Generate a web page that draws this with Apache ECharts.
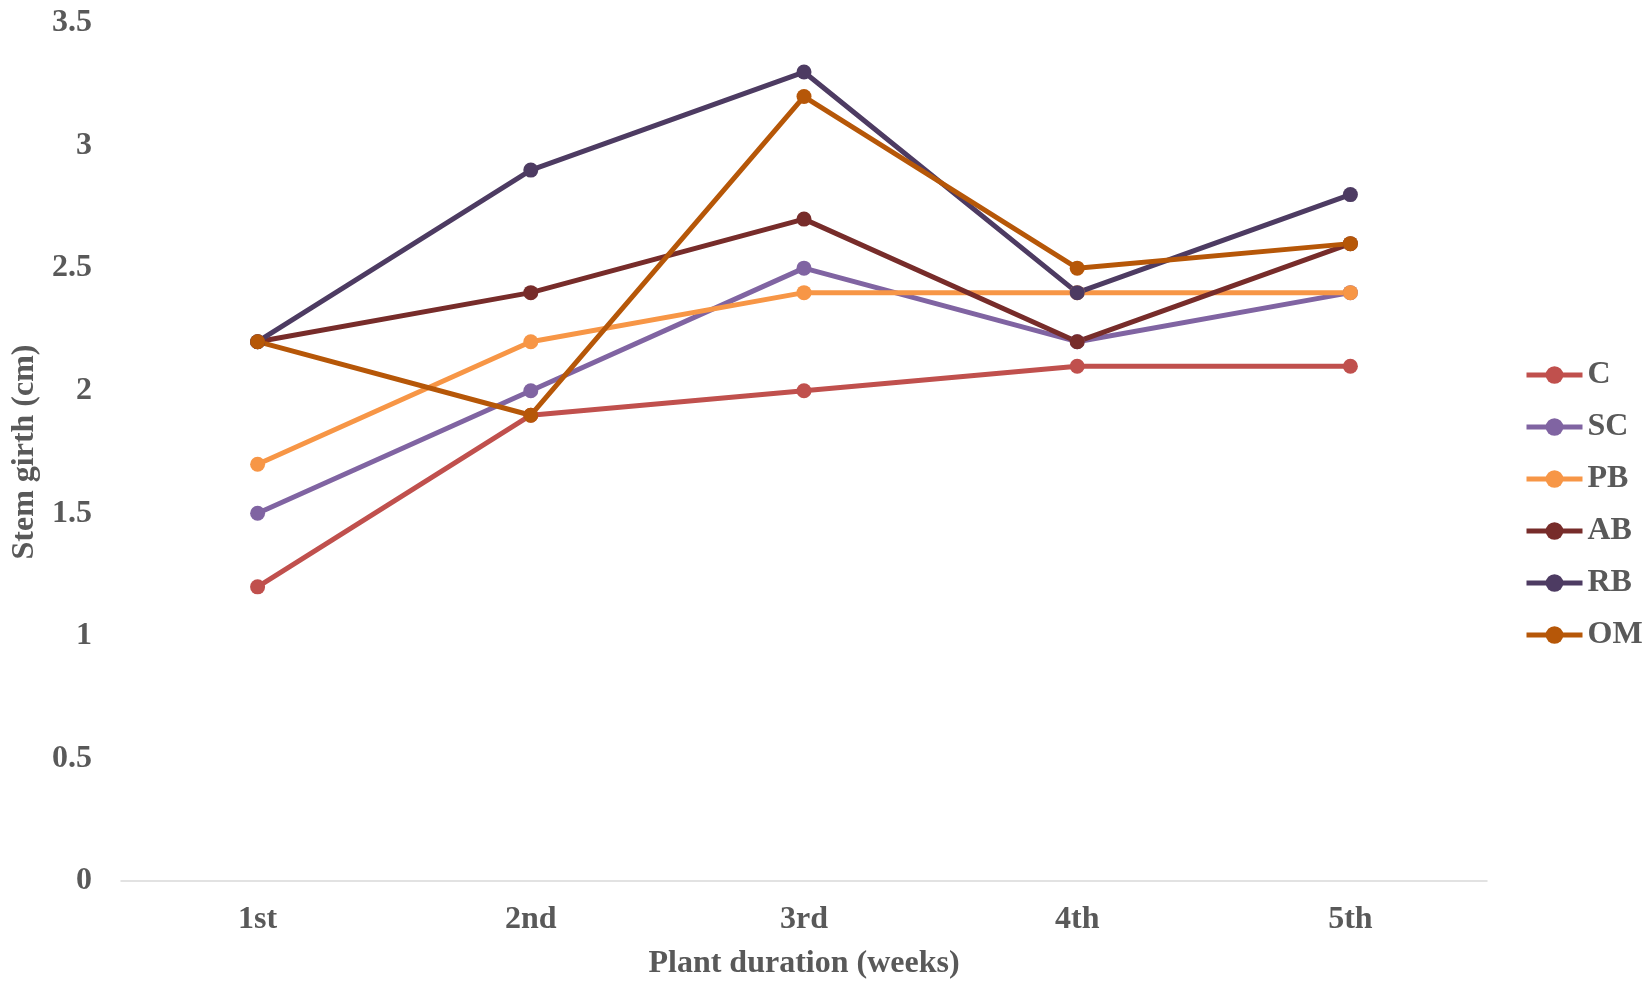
<!DOCTYPE html>
<html><head><meta charset="utf-8">
<script src="https://cdn.jsdelivr.net/npm/echarts@6/dist/echarts.min.js"></script>
<style>html,body{margin:0;padding:0;background:#fff}#c{width:1650px;height:983px}</style>
</head><body><div id="c"></div>
<script>
const categories = ['1st','2nd','3rd','4th','5th'];
const seriesNames = ['C','SC','PB','AB','RB','OM'];
const C  = [1.2, 1.9, 2.0, 2.1, 2.1];
const SC = [1.5, 2.0, 2.5, 2.2, 2.4];
const PB = [1.7, 2.2, 2.4, 2.4, 2.4];
const AB = [2.2, 2.4, 2.7, 2.2, 2.6];
const RB = [2.2, 2.9, 3.3, 2.4, 2.8];
const OM = [2.2, 1.9, 3.2, 2.5, 2.6];
const yTicks = [0, 0.5, 1, 1.5, 2, 2.5, 3, 3.5];
const colors = ['#C0504D','#8064A2','#F79646','#772C2A','#4D3B62','#B65708'];
const values = [C, SC, PB, AB, RB, OM];
const font = 'Liberation Serif';
const chart = echarts.init(document.getElementById('c'));
chart.setOption({
  animation: false,
  color: colors,
  textStyle: {fontFamily: font},
  grid: {left: 121, right: 163, top: 23, bottom: 102, containLabel: false, outerBoundsMode: 'none'},
  legend: {
    orient: 'vertical', left: 1519, top: 354,
    itemWidth: 56, itemHeight: 22, itemGap: 20,
    lineStyle: {width: 5},
    textStyle: {fontFamily: font, fontWeight: 'bold', fontSize: 32, color: '#595959', padding: [0,0,0,0]},
    data: seriesNames
  },
  xAxis: {
    type: 'category', data: categories, boundaryGap: true,
    axisLine: {lineStyle: {color: '#D9D9D9', width: 1.5}},
    axisTick: {show: false},
    axisLabel: {fontFamily: font, fontWeight: 'bold', fontSize: 32, color: '#595959', margin: 23},
    name: 'Plant duration (weeks)', nameLocation: 'middle', nameGap: 67,
    nameTextStyle: {fontFamily: font, fontWeight: 'bold', fontSize: 32, color: '#595959'}
  },
  yAxis: {
    type: 'value', min: yTicks[0], max: yTicks[yTicks.length-1], interval: 0.5,
    axisLine: {show: false}, axisTick: {show: false}, splitLine: {show: false},
    axisLabel: {fontFamily: font, fontWeight: 'bold', fontSize: 32, color: '#595959', margin: 29},
    name: 'Stem girth (cm)', nameLocation: 'middle', nameGap: 74,
    nameTextStyle: {fontFamily: font, fontWeight: 'bold', fontSize: 32, color: '#595959'}
  },
  series: seriesNames.map((n, i) => ({
    name: n, type: 'line', data: values[i],
    symbol: 'circle', symbolSize: 15,
    lineStyle: {width: 5, color: colors[i]},
    itemStyle: {color: colors[i]}
  }))
});
</script></body></html>
